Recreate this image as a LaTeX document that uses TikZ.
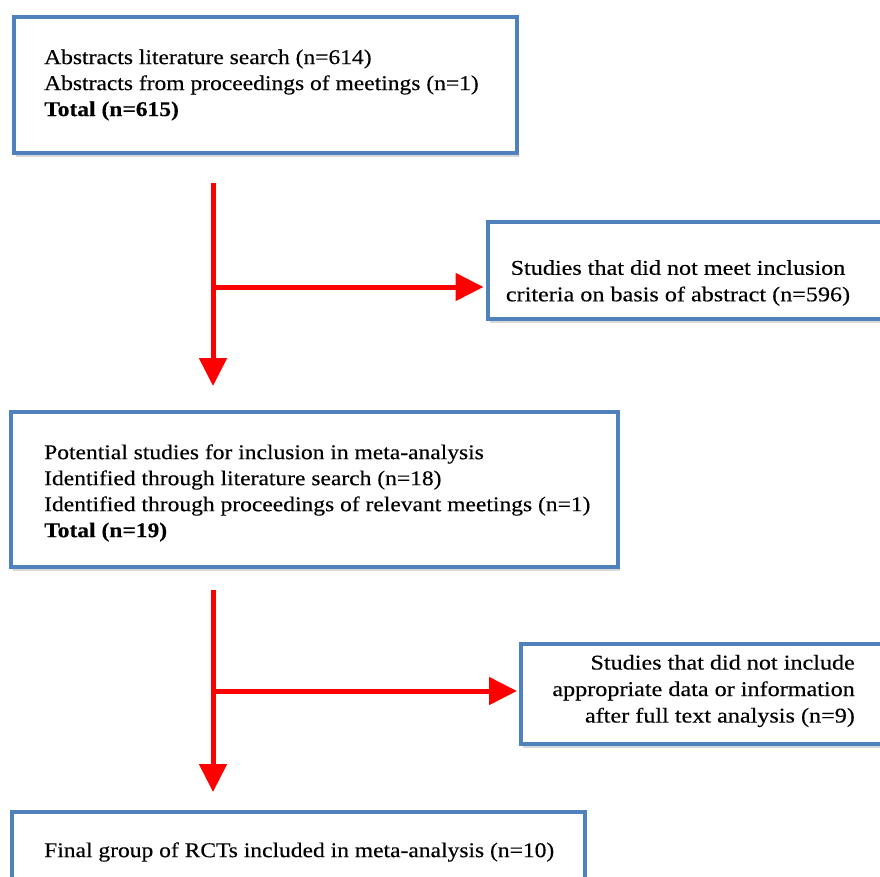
\documentclass[tikz,border=0pt]{standalone}
\usepackage{fontspec}
\setmainfont{Liberation Serif}[FakeStretch=1.12, FakeBold=0.3]
\newfontfamily\sidefont{Liberation Serif}[FakeStretch=1.15, FakeBold=0.3]
\usetikzlibrary{arrows.meta,shadows}
\definecolor{boxblue}{RGB}{79,129,189}
\definecolor{arrred}{RGB}{255,0,0}
\tikzset{
  flowbox/.style={draw=boxblue, line width=4pt, fill=white, rectangle,
    drop shadow={opacity=0.3, shadow xshift=2pt, shadow yshift=-4pt},
    inner sep=0pt, anchor=north west},
  lefttext/.style={font=\fontsize{21}{26}\selectfont, align=left, anchor=west, inner sep=0pt},
  sidetext/.style={font=\sidefont\fontsize{21}{26.5}\selectfont, inner sep=0pt},
  redarrow/.style={draw=arrred, line width=5pt, -{Triangle[width=27pt,length=28pt]}},
}
\begin{document}
\begin{tikzpicture}[x=1pt,y=-1pt]
\useasboundingbox (0,0) rectangle (880,876);
\clip (0,0) rectangle (880,876);
\fill[white] (0,0) rectangle (880,876);

% boxes
\node[flowbox, minimum width=503pt, minimum height=136pt] (b1) at (12,15) {};
\node[flowbox, minimum width=420pt, minimum height=97pt] (b2) at (486,220) {};
\node[flowbox, minimum width=607pt, minimum height=155pt] (b3) at (9,410) {};
\node[flowbox, minimum width=400pt, minimum height=100pt] (b4) at (519,642) {};
\node[flowbox, minimum width=573pt, minimum height=100pt] (b5) at (10,810) {};

% texts
\node[lefttext] (t1) at (44,85) {Abstracts literature search (n=614)\\Abstracts from proceedings of meetings (n=1)\\\textbf{Total (n=615)}};
\node[sidetext, align=center] (t2) at (678,283) {Studies that did not meet inclusion\\criteria on basis of abstract (n=596)};
\node[lefttext] (t3) at (44,493) {Potential studies for inclusion in meta-analysis\\Identified through literature search (n=18)\\Identified through proceedings of relevant meetings (n=1)\\\textbf{Total (n=19)}};
\node[sidetext, align=right, anchor=east] (t4) at (855,691) {Studies that did not include\\appropriate data or information\\after full text analysis (n=9)};
\node[lefttext] (t5) at (44,852) {Final group of RCTs included in meta-analysis (n=10)};

% arrows
\coordinate (v1top) at (213,183);
\coordinate (h1start) at (213,287);
\coordinate (v2top) at (213,590);
\coordinate (h2start) at (213,691);
\draw[redarrow, shorten >=24pt] (v1top) -- (v1top |- b3.north);
\draw[redarrow, shorten >=2.5pt] (h1start) -- (h1start -| b2.west);
\draw[redarrow, shorten >=18pt] (v2top) -- (v2top |- b5.north);
\draw[redarrow, shorten >=2pt] (h2start) -- (h2start -| b4.west);
\end{tikzpicture}
\end{document}
